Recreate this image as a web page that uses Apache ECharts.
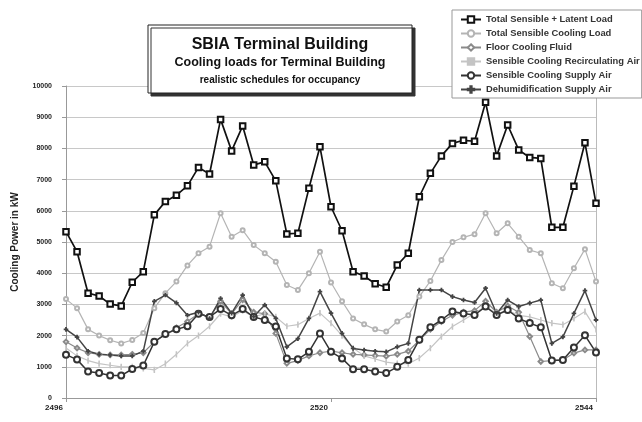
<!DOCTYPE html>
<html>
<head>
<meta charset="utf-8">
<title>SBIA Terminal Building</title>
<script src="https://cdn.jsdelivr.net/npm/echarts@6/dist/echarts.min.js"></script>
<style>
  html, body { margin: 0; padding: 0; background: #fff; }
  #main { width: 642px; height: 422px; }
</style>
</head>
<body>
<div id="main"></div>
<script>
// hours of the year (x axis)
var hours = [2496, 2497, 2498, 2499, 2500, 2501, 2502, 2503, 2504, 2505, 2506, 2507, 2508, 2509, 2510, 2511, 2512,
  2513, 2514, 2515, 2516, 2517, 2518, 2519, 2520, 2521, 2522, 2523, 2524, 2525, 2526, 2527, 2528,
  2529, 2530, 2531, 2532, 2533, 2534, 2535, 2536, 2537, 2538, 2539, 2540, 2541, 2542, 2543, 2544];

// cooling power in kW
var totalLatent = [5330, 4690, 3360, 3270, 3010, 2950, 3710, 4050, 5870, 6300, 6500, 6800, 7390, 7180, 8930, 7920, 8720,
  7470, 7570, 6960, 5260, 5280, 6720, 8050, 6130, 5360, 4050, 3910, 3660, 3550, 4260, 4640, 6450,
  7200, 7760, 8160, 8260, 8230, 9480, 7760, 8750, 7950, 7710, 7680, 5470, 5470, 6790, 8180, 6240];
var totalSensible = [3170, 2880, 2200, 2000, 1850, 1750, 1860, 2080, 2880, 3360, 3730, 4250, 4640, 4850, 5920, 5170, 5380,
  4900, 4640, 4370, 3620, 3460, 4000, 4690, 3700, 3100, 2550, 2360, 2200, 2130, 2450, 2650, 3250,
  3750, 4420, 5000, 5150, 5250, 5920, 5280, 5600, 5170, 4740, 4640, 3680, 3520, 4160, 4770, 3730];
var floorFluid = [1800, 1600, 1450, 1400, 1380, 1380, 1400, 1450, 1800, 2030, 2250, 2450, 2700, 2600, 3100, 2700, 3150,
  2750, 2700, 2070, 1110, 1200, 1350, 1450, 1500, 1450, 1400, 1380, 1360, 1340, 1400, 1500, 1850,
  2200, 2450, 2650, 2750, 2800, 3100, 2750, 2950, 2750, 1970, 1170, 1200, 1220, 1440, 1540, 1540];
var recircAir = [1600, 1350, 1200, 1100, 1050, 1000, 1000, 950, 900, 1100, 1400, 1750, 2000, 2300, 2700, 2600, 2800,
  2600, 2700, 2600, 2300, 2350, 2550, 2720, 2400, 2000, 1600, 1350, 1250, 1150, 1100, 1100, 1280,
  1600, 1970, 2290, 2500, 2720, 2930, 2700, 2800, 2650, 2600, 2500, 2400, 2350, 2550, 2770, 2200];
var supplyAir = [1390, 1230, 850, 800, 720, 720, 930, 1040, 1800, 2050, 2200, 2300, 2700, 2600, 2850, 2650, 2850,
  2600, 2500, 2290, 1270, 1240, 1480, 2070, 1480, 1270, 920, 920, 850, 800, 1000, 1220, 1870,
  2270, 2500, 2770, 2710, 2660, 2930, 2660, 2820, 2550, 2400, 2270, 1200, 1220, 1620, 2010, 1460];
var dehumAir = [2200, 1950, 1500, 1400, 1380, 1350, 1350, 1500, 3100, 3300, 3050, 2650, 2750, 2550, 3190, 2720, 3300,
  2610, 2980, 2550, 1640, 1900, 2550, 3410, 2720, 2070, 1590, 1540, 1500, 1480, 1640, 1750, 3460,
  3460, 3460, 3250, 3140, 3060, 3520, 2710, 3140, 2930, 3040, 3140, 1750, 1960, 2710, 3440, 2500];

var xTicks = [2496, 2520, 2544];

function pairs(vals) {
  return hours.map(function (h, i) { return [h, vals[i]]; });
}

var font = 'Liberation Sans, Arial, sans-serif';
var plus = 'path://M4,0H6V4H10V6H6V10H4V6H0V4H4Z';
var bar = 'path://M0,0H2V10H0Z';

function line(name, vals, color, width, symbol, size) {
  return {
    name: name,
    type: 'line',
    data: pairs(vals),
    symbol: symbol,
    symbolSize: size,
    lineStyle: { color: color, width: width },
    itemStyle: { color: color, borderColor: color, borderWidth: 1.1 },
    emphasis: { disabled: true },
    animation: false
  };
}

var chart = echarts.init(document.getElementById('main'));
var option = {
  backgroundColor: '#fff',
  textStyle: { fontFamily: font },
  grid: { left: 66, right: 46, top: 86, bottom: 24 },
  legend: {
    orient: 'vertical',
    left: 452,
    top: 10,
    padding: [5, 2, 4, 8],
    itemGap: 5,
    itemWidth: 20,
    itemHeight: 8,
    backgroundColor: '#fff',
    borderColor: '#999',
    borderWidth: 1,
    textStyle: { fontSize: 9.4, fontWeight: 'bold', color: '#333', lineHeight: 9, fontFamily: font },
    data: ['Total Sensible + Latent Load', 'Total Sensible Cooling Load', 'Floor Cooling Fluid',
      'Sensible Cooling Recirculating Air', 'Sensible Cooling Supply Air', 'Dehumidification Supply Air']
  },
  xAxis: {
    type: 'value',
    min: 2496,
    max: 2544,
    interval: 24,
    axisLine: { lineStyle: { color: '#999' } },
    axisTick: { show: true, length: 4, lineStyle: { color: '#999' } },
    splitLine: { show: false },
    axisLabel: {
      fontSize: 8, fontWeight: 'bold', color: '#222', margin: 6,
      padding: [0, 24, 0, 0],
      formatter: function (v) { return xTicks.indexOf(v) >= 0 ? String(v) : ''; }
    }
  },
  yAxis: [{
    type: 'value',
    min: 0,
    max: 10000,
    interval: 1000,
    name: 'Cooling Power in kW',
    nameLocation: 'middle',
    nameGap: 46,
    nameTextStyle: { fontSize: 10, fontWeight: 'bold', color: '#222' },
    axisLine: { show: true, lineStyle: { color: '#999' } },
    axisTick: { show: true, length: 4, lineStyle: { color: '#999' } },
    axisLabel: { fontSize: 7, fontWeight: 'bold', color: '#222', margin: 14, formatter: function (v) { return String(v); } },
    splitLine: { lineStyle: { color: '#c8c8c8', width: 1 } }
  }, {
    // right border of the plot
    type: 'value',
    position: 'right',
    min: 0,
    max: 10000,
    axisLine: { show: true, lineStyle: { color: '#bbb' } },
    axisTick: { show: false },
    axisLabel: { show: false },
    splitLine: { show: false }
  }],
  graphic: [{
    type: 'rect',
    z: 100,
    shape: { x: 148, y: 25, width: 264, height: 68 },
    style: { fill: '#fff', stroke: '#222', lineWidth: 1, shadowColor: '#333', shadowOffsetX: 3, shadowOffsetY: 3, shadowBlur: 0 }
  }, {
    type: 'text', z: 101, x: 280, y: 45,
    style: { text: 'SBIA Terminal Building', font: 'bold 16px ' + font, fill: '#111', textAlign: 'center', textVerticalAlign: 'middle' }
  }, {
    type: 'text', z: 101, x: 280, y: 63,
    style: { text: 'Cooling loads for Terminal Building', font: 'bold 12.5px ' + font, fill: '#111', textAlign: 'center', textVerticalAlign: 'middle' }
  }, {
    type: 'text', z: 101, x: 280, y: 80,
    style: { text: 'realistic schedules for occupancy', font: 'bold 10px ' + font, fill: '#111', textAlign: 'center', textVerticalAlign: 'middle' }
  }],
  series: [
    line('Total Sensible + Latent Load', totalLatent, '#111', 1.7, 'emptyRect', 5.5),
    line('Total Sensible Cooling Load', totalSensible, '#b4b4b4', 1.2, 'emptyCircle', 4),
    line('Floor Cooling Fluid', floorFluid, '#8a8a8a', 1.2, 'emptyDiamond', 4.5),
    line('Sensible Cooling Recirculating Air', recircAir, '#c4c4c4', 1.2, bar, [1, 4]),
    line('Sensible Cooling Supply Air', supplyAir, '#333', 1.5, 'emptyCircle', 6),
    line('Dehumidification Supply Air', dehumAir, '#444', 1.5, plus, 3.5)
  ]
};
chart.setOption(option);
</script>
</body>
</html>
